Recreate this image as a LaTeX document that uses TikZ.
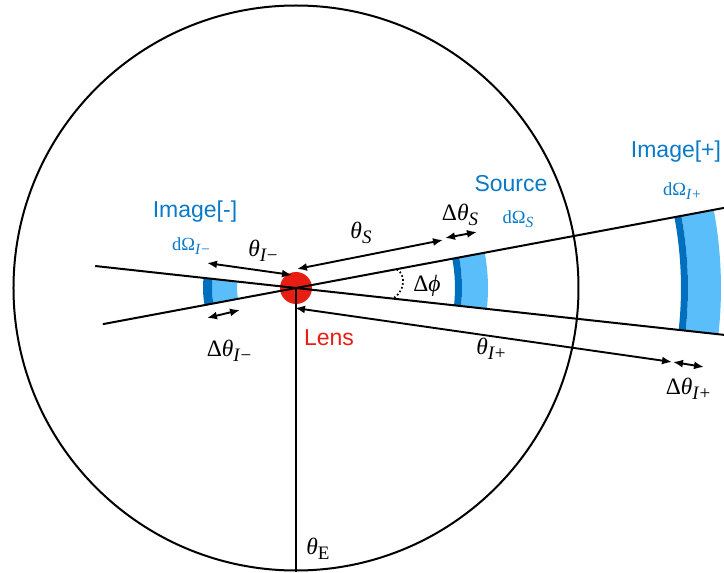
\documentclass[tikz,border=0pt]{standalone}
\usepackage{fontspec}
\setmainfont{Liberation Serif}
\newfontfamily\labsans{Liberation Sans}
\usetikzlibrary{arrows.meta}
\definecolor{lblue}{RGB}{90,190,250}
\definecolor{dblue}{RGB}{0,112,190}
\definecolor{tblue}{RGB}{10,122,200}
\definecolor{lensred}{RGB}{232,30,20}
\newcommand{\bigsub}[1]{\raisebox{-5.5pt}{\fontsize{19}{19}\selectfont #1}}
\newcommand{\smallsub}[1]{\raisebox{-4.5pt}{\fontsize{15.5}{15.5}\selectfont #1}}
\tikzset{
  ray/.style={line width=2pt},
  dim/.style={line width=1.9pt,{Latex[length=10pt,width=8pt]}-{Latex[length=10pt,width=8pt]}},
  titlelab/.style={text=tblue,font=\labsans\fontsize{23}{25}\selectfont,inner sep=0pt},
  domega/.style={text=tblue,font=\fontsize{18.5}{20}\selectfont,inner sep=0pt},
  mlab/.style={text=black,font=\fontsize{23.5}{25}\selectfont,inner sep=0pt},
}
\begin{document}
\begin{tikzpicture}[x=1pt,y=1pt]
\useasboundingbox (-296,-285) rectangle (428,288);
% Earth circle
\node[circle,draw,line width=2pt,minimum size=565pt,inner sep=0pt] (earth) at (0,0) {};
% source band
\fill[lblue] (-6.3:166) arc[start angle=-6.3,end angle=10.6,radius=166] -- (10.6:192) arc[start angle=10.6,end angle=-6.3,radius=192] -- cycle;
\fill[dblue] (-6.3:159) arc[start angle=-6.3,end angle=10.6,radius=159] -- (10.6:166) arc[start angle=10.6,end angle=-6.3,radius=166] -- cycle;
% image + band
\fill[lblue] (-6.3:392) arc[start angle=-6.3,end angle=10.6,radius=392] -- (10.6:425) arc[start angle=10.6,end angle=-6.3,radius=425] -- cycle;
\fill[dblue] (-6.3:385) arc[start angle=-6.3,end angle=10.6,radius=385] -- (10.6:392) arc[start angle=10.6,end angle=-6.3,radius=392] -- cycle;
% image - band
\fill[lblue] (173.7:59) arc[start angle=173.7,end angle=190.6,radius=59] -- (190.6:84) arc[start angle=190.6,end angle=173.7,radius=84] -- cycle;
\fill[dblue] (173.7:84) arc[start angle=173.7,end angle=190.6,radius=84] -- (190.6:93) arc[start angle=190.6,end angle=173.7,radius=93] -- cycle;
% lens
\node[circle,fill=lensred,minimum size=32pt,inner sep=0pt] (lens) at (0,0) {};
% rays
\coordinate (r1a) at (173.75:202);
\coordinate (r1b) at (-6.25:432);
\coordinate (r2a) at (190.6:196.5);
\coordinate (r2b) at (10.6:436);
\draw[ray] (r1a) -- (lens.center) -- (r1b);
\draw[ray] (r2a) -- (lens.center) -- (r2b);
\draw[ray] (lens.center) -- (earth.south);
% dotted angle
\coordinate (phT) at (10.6:102.5);
\coordinate (phB) at (-6.3:97.5);
\coordinate (phC1) at (111,12);
\coordinate (phC2) at (108,-4);
\draw[line width=1.7pt,dash pattern=on 1.7pt off 2.3pt] (phT) .. controls (phC1) and (phC2) .. (phB);
% dimension arrows
\coordinate (tsA) at (1,19);
\coordinate (tsB) at (147,48);
\coordinate (dsA) at (149,50);
\coordinate (dsB) at (181,56);
\coordinate (tmA) at (-89,25);
\coordinate (tmB) at (-4,13);
\coordinate (dmA) at (-89,-30);
\coordinate (dmB) at (-56,-22);
\coordinate (tpA) at (-1,-20);
\coordinate (tpB) at (376,-74);
\coordinate (dpA) at (377,-74);
\coordinate (dpB) at (408,-79);
\draw[dim] (tsA) -- (tsB);
\draw[dim] (dsA) -- (dsB);
\draw[dim] (tmA) -- (tmB);
\draw[dim] (dmA) -- (dmB);
\draw[dim] (tpA) -- (tpB);
\draw[dim] (dpA) -- (dpB);
% labels
\node[titlelab] (nImm) at (-101,76) {Image[-]};
\node[titlelab] (nSrc) at (215,104) {Source};
\node[titlelab] (nImp) at (380,136) {Image[+]};
\node[titlelab,text=lensred] (nLens) at (33,-50) {Lens};
\node[domega] (oImm) at (-105,42) {dΩ\smallsub{\textit{I}−}};
\node[domega] (oSrc) at (222,69) {dΩ\smallsub{\textit{S}}};
\node[domega] (oImp) at (386,97) {dΩ\smallsub{\textit{I}+}};
\node[mlab] (lTm) at (-33,37) {\textit{θ}\bigsub{\textit{I}−}};
\node[mlab] (lTs) at (65,55) {\textit{θ}\bigsub{\textit{S}}};
\node[mlab] (lDs) at (164,73) {Δ\textit{θ}\bigsub{\textit{S}}};
\node[mlab] (lDphi) at (131,2) {Δ\textit{ϕ}};
\node[mlab] (lTp) at (195,-61) {\textit{θ}\bigsub{\textit{I}+}};
\node[mlab] (lDp) at (392,-101) {Δ\textit{θ}\bigsub{\textit{I}+}};
\node[mlab] (lDm) at (-67,-63) {Δ\textit{θ}\bigsub{\textit{I}−}};
\node[mlab] (lTE) at (22,-261) {\textit{θ}\bigsub{E}};
\end{tikzpicture}
\end{document}
